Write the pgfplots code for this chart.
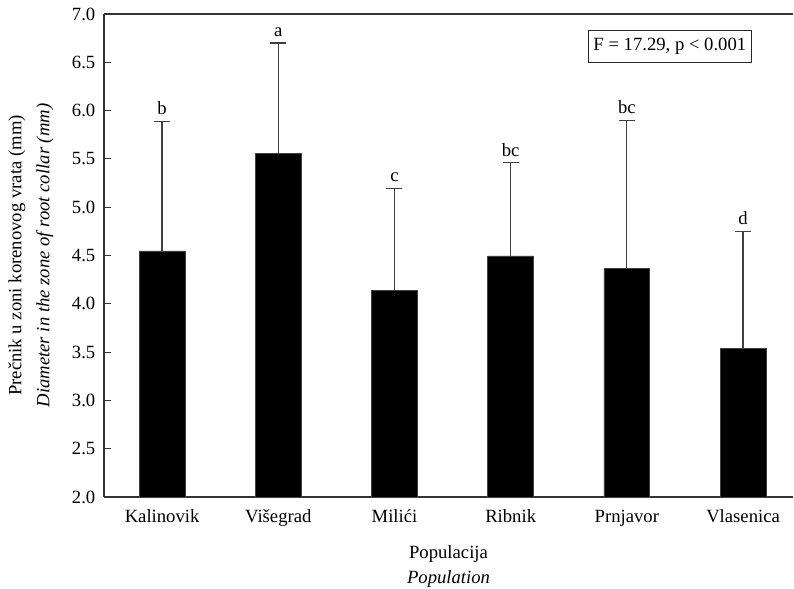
\documentclass[border=0pt]{standalone}
\usepackage{fontspec}
\setmainfont{Liberation Serif}
\usepackage{pgfplots}
\pgfplotsset{compat=1.18}
\begin{document}
\begin{tikzpicture}
\begin{axis}[
  name=ax,
  scale only axis,
  width=516.75pt, height=362.25pt,
  xmin=-0.5, xmax=5.43,
  ymin=2, ymax=7,
  axis x line*=bottom,
  axis y line*=left,
  ytick={2,2.5,...,7},
  xtick={0,1,2,3,4,5},
  xticklabels={Kalinovik,Višegrad,Milići,Ribnik,Prnjavor,Vlasenica},
  xtick style={draw=none},
  tick align=inside,
  ytick style={draw=black!80, line width=0.8pt},
  major tick length=5.5pt,
  axis line style={draw=black!80, line width=0.8pt},
  /pgf/number format/assume math mode=true,
  yticklabel style={/pgf/number format/fixed,/pgf/number format/fixed zerofill,/pgf/number format/precision=1},
  tick label style={font=\fontsize{14}{16}\selectfont},
  yticklabel style={xshift=-3pt},
  xticklabel style={yshift=-6pt},
  ylabel={Prečnik u zoni korenovog vrata (mm)\\\textit{Diameter in the zone of root collar (mm)}},
  ylabel style={font=\fontsize{14}{21}\selectfont, align=center, at={(axis description cs:-0.106,0.5)}, anchor=center, rotate=0},
  xlabel={Populacija\\\textit{Population}},
  xlabel style={font=\fontsize{14}{19}\selectfont, align=center, at={(axis description cs:0.5,-0.144)}, anchor=center},
  clip=false,
]
\draw[draw=black!80, line width=0.8pt] (rel axis cs:0,1) -- (rel axis cs:1,1);
\addplot[ybar, bar width=0.395, fill=black, draw=black!75, line width=0.5pt,
  error bars/.cd, y dir=plus, y explicit,
  error bar style={draw=black!75, line width=0.9pt},
  error mark options={rotate=90, mark size=6pt, draw=black!75, line width=0.9pt}]
coordinates {
  (0,4.547) +- (0,1.343)
  (1,5.56) +- (0,1.14)
  (2,4.14) +- (0,1.055)
  (3,4.495) +- (0,0.965)
  (4,4.37) +- (0,1.53)
  (5,3.535) +- (0,1.215)
};
\addplot[draw=none, mark=none, nodes near coords, point meta=explicit symbolic,
  nodes near coords style={font=\fontsize{14}{16}\selectfont, anchor=south, inner sep=2pt, yshift=2.5pt}]
coordinates {
  (0,5.89) [b]
  (1,6.70) [a]
  (2,5.195) [c]
  (3,5.46) [bc]
  (4,5.90) [bc]
  (5,4.75) [d]
};
\node[draw=black!85, line width=0.8pt, inner xsep=4pt, inner ysep=6pt, font=\fontsize{14}{16}\selectfont] at (axis cs:4.37,6.663) {F = 17.29, p < 0.001};
\end{axis}
\pgfresetboundingbox
\path[use as bounding box] ([xshift=-78pt,yshift=-69pt]ax.south west) rectangle ([xshift=0.75pt,yshift=10.5pt]ax.north east);
\end{tikzpicture}
\end{document}
